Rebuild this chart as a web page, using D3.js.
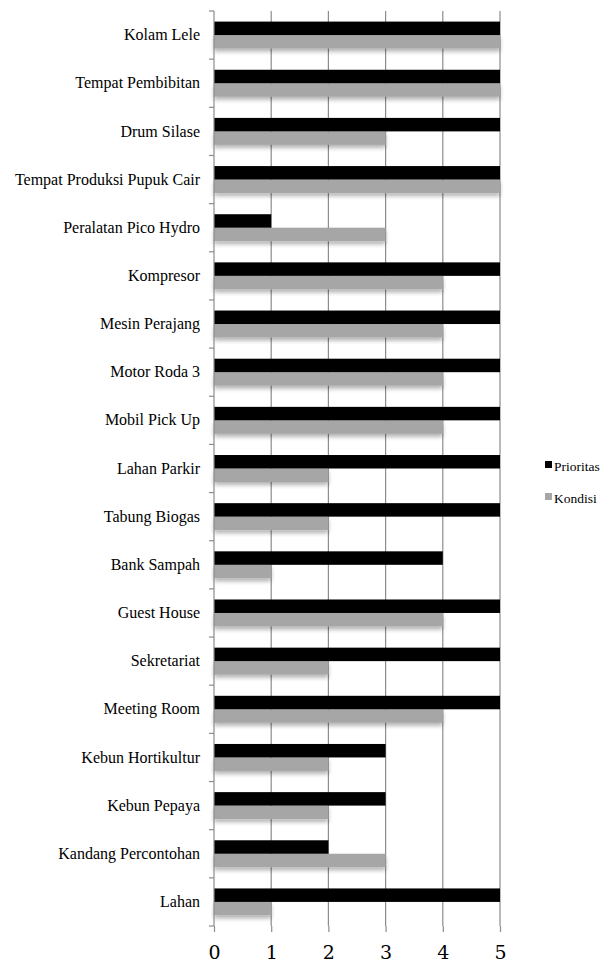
<!DOCTYPE html>
<html>
<head>
<meta charset="utf-8">
<script src="https://cdn.jsdelivr.net/npm/d3@7"></script>
<style>
  body { margin: 0; background: #fff; }
  svg { display: block; }
  .serif { font-family: 'Liberation Serif', 'Times New Roman', serif; }
  .num { font-family: 'DejaVu Serif', Cambria, serif; }
</style>
</head>
<body>
<svg id="chart" width="608" height="963"></svg>
<script>
// categories listed top to bottom
const categories = [
    'Kolam Lele', 'Tempat Pembibitan', 'Drum Silase', 'Tempat Produksi Pupuk Cair',
    'Peralatan Pico Hydro', 'Kompresor', 'Mesin Perajang', 'Motor Roda 3',
    'Mobil Pick Up', 'Lahan Parkir', 'Tabung Biogas', 'Bank Sampah',
    'Guest House', 'Sekretariat', 'Meeting Room', 'Kebun Hortikultur',
    'Kebun Pepaya', 'Kandang Percontohan', 'Lahan'
]
const prioritas = [5, 5, 5, 5, 1, 5, 5, 5, 5, 5, 5, 4, 5, 5, 5, 3, 3, 2, 5]
const kondisi = [5, 5, 3, 5, 3, 4, 4, 4, 4, 2, 2, 1, 4, 2, 4, 2, 2, 3, 1]
const seriesNames = ['Prioritas', 'Kondisi']
const xTicks = [0, 1, 2, 3, 4, 5]

const margin = { top: 11, left: 214 }
const svg = d3.select('#chart')
const plotW = 286
const plotH = 915
const colors = { Prioritas: '#000000', Kondisi: '#a6a6a6' }

const defs = svg.append('defs')
const shadow = defs.append('filter').attr('id', 'shadow')
    .attr('x', '-5%').attr('y', '-20%').attr('width', '110%').attr('height', '170%')
shadow.append('feDropShadow')
    .attr('dx', 0).attr('dy', 3).attr('stdDeviation', 2.2)
    .attr('flood-color', '#000').attr('flood-opacity', 0.3)

const g = svg.append('g').attr('transform', `translate(${margin.left},${margin.top})`)

const x = d3.scaleLinear().domain([0, 5]).range([0, plotW])
const y = d3.scaleBand().domain(categories).range([0, plotH]).paddingInner(0.44).paddingOuter(0.22)
const ySub = d3.scaleBand().domain(seriesNames).range([0, y.bandwidth()])

// gridlines
g.append('g').selectAll('line').data(xTicks.slice(1)).join('line')
    .attr('x1', d => x(d)).attr('x2', d => x(d))
    .attr('y1', 0).attr('y2', plotH)
    .attr('stroke', '#8c8c8c').attr('stroke-width', 1.2)

const rows = g.append('g').selectAll('g').data(categories).join('g')
    .attr('transform', d => `translate(0,${y(d)})`)

rows.append('rect')
    .attr('x', 0)
    .attr('y', ySub('Kondisi'))
    .attr('width', (d, i) => x(kondisi[i]))
    .attr('height', ySub.bandwidth())
    .attr('fill', colors.Kondisi)
    .attr('filter', 'url(#shadow)')

rows.append('rect')
    .attr('x', 0)
    .attr('y', ySub('Prioritas'))
    .attr('width', (d, i) => x(prioritas[i]))
    .attr('height', ySub.bandwidth())
    .attr('fill', colors.Prioritas)

// y axis
const yAxis = g.append('g')
    .call(d3.axisLeft(y).tickSize(0).tickPadding(14))
yAxis.select('.domain').attr('stroke', '#8c8c8c').attr('stroke-width', 1.2)
    .attr('d', `M0,0V${plotH}`)
yAxis.attr('font-family', null).attr('font-size', null)
yAxis.selectAll('text')
    .attr('class', 'serif')
    .style('font-size', '16px').attr('fill', '#000')
// category boundary ticks
const step = plotH / categories.length
g.append('g').selectAll('line').data(d3.range(categories.length + 1)).join('line')
    .attr('x1', -5).attr('x2', 0)
    .attr('y1', d => d * step).attr('y2', d => d * step)
    .attr('stroke', '#8c8c8c').attr('stroke-width', 1.2)

// x axis
const xAxis = g.append('g').attr('transform', `translate(0,${plotH})`)
    .call(d3.axisBottom(x).tickValues(xTicks).tickFormat(d3.format('d')).tickSize(6).tickSizeOuter(0).tickPadding(14))
xAxis.attr('font-family', null).attr('font-size', null)
xAxis.select('.domain').remove()
xAxis.selectAll('line').attr('stroke', '#8c8c8c').attr('stroke-width', 1.2)
xAxis.selectAll('text')
    .attr('class', 'num')
    .style('font-size', '19px').attr('fill', '#000')

// legend
const legend = svg.append('g').attr('transform', 'translate(545,466)')
const items = legend.selectAll('g').data(seriesNames).join('g')
    .attr('transform', (d, i) => `translate(0,${i * 32})`)
items.append('rect').attr('x', 0).attr('y', -5).attr('width', 7).attr('height', 7)
    .attr('fill', d => colors[d])
items.append('text').attr('x', 9).attr('y', 0).attr('dy', '0.35em')
    .attr('class', 'serif')
    .style('font-size', '13.5px').text(d => d)
</script>
</body>
</html>
